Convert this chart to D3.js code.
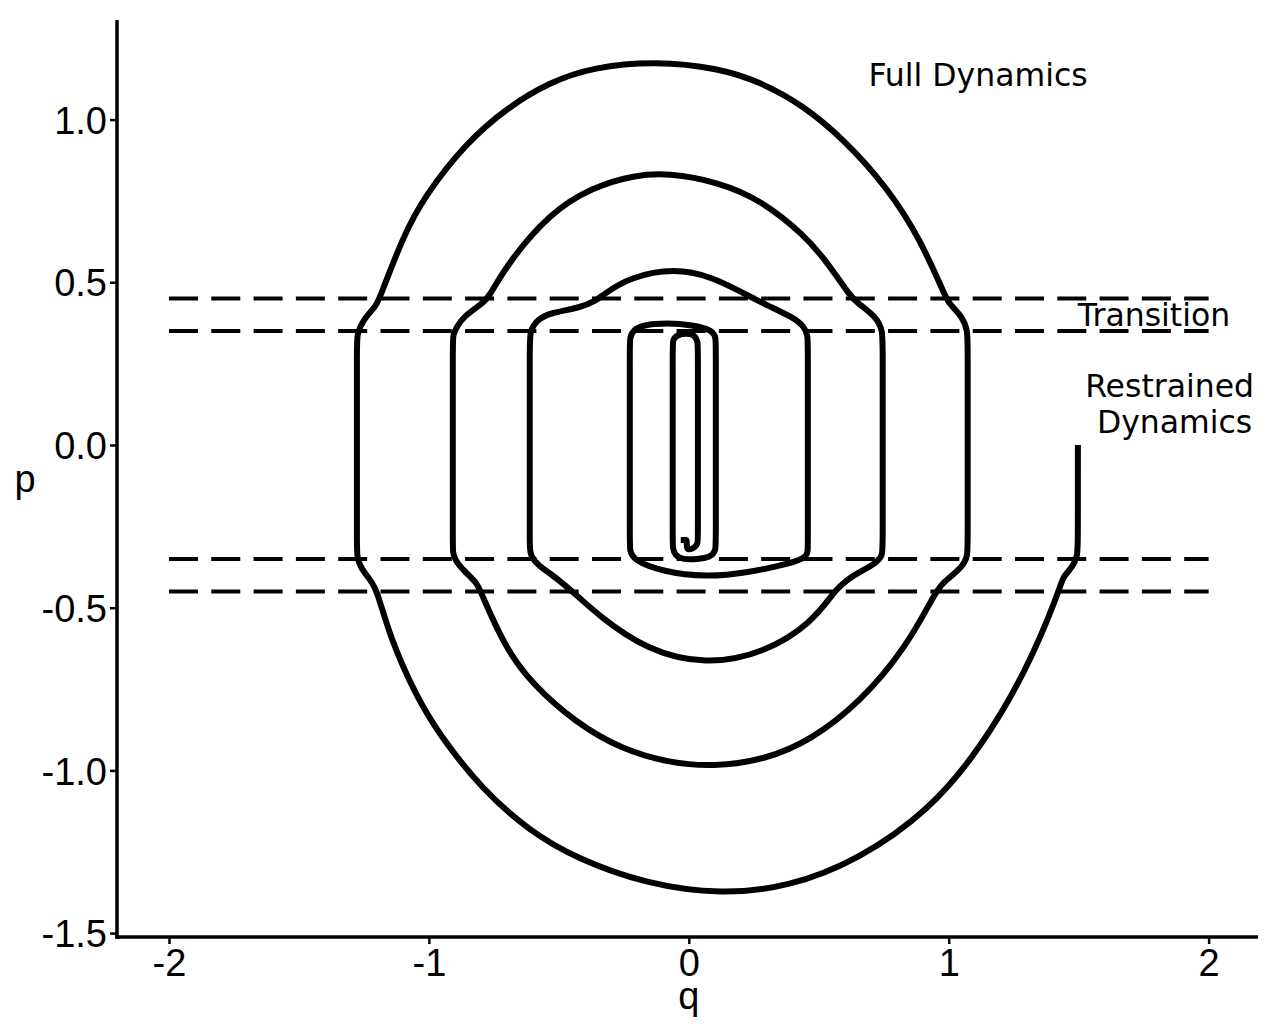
<!DOCTYPE html>
<html>
<head>
<meta charset="utf-8">
<script src="https://cdn.jsdelivr.net/npm/d3@7"></script>
<style>
  html, body { margin: 0; padding: 0; background: #fff; }
  svg { display: block; }
</style>
</head>
<body>
<svg id="chart" width="1280" height="1024"></svg>
<script>
// ---- data ----
const xTicks = [-2, -1, 0, 1, 2];
const xTickLabels = ["-2", "-1", "0", "1", "2"];
const yTicks = [1.0, 0.5, 0.0, -0.5, -1.0, -1.5];
const yTickLabels = ["1.0", "0.5", "0.0", "-0.5", "-1.0", "-1.5"];

// boundaries of the transition zone (dashed lines)
const boundaryP = [0.45, 0.35, -0.35, -0.45];
const boundaryQ = [-2, 2];

// trajectory in phase space [q, p], read along the curve from its start at (1.5, 0)
const trajectory = [
  [1.497, 0.000], [1.497, -0.300], [1.496, -0.340], [1.477, -0.375], [1.438, -0.406], [1.427, -0.445],
  [1.300, -0.695], [1.114, -0.942], [0.927, -1.121], [0.654, -1.275], [0.385, -1.358], [0.127, -1.381],
  [-0.162, -1.350], [-0.435, -1.270], [-0.615, -1.185], [-0.796, -1.058], [-0.961, -0.889], [-1.050, -0.770],
  [-1.149, -0.593], [-1.200, -0.445],
  [-1.225, -0.415], [-1.265, -0.375], [-1.277, -0.340], [-1.277, -0.300], [-1.277, 0.000], [-1.277, 0.300],
  [-1.277, 0.340], [-1.254, 0.384], [-1.200, 0.430], [-1.188, 0.455],
  [-1.100, 0.639], [-1.019, 0.762], [-0.858, 0.928], [-0.696, 1.038], [-0.535, 1.115], [-0.369, 1.161],
  [-0.127, 1.180], [0.115, 1.158], [0.277, 1.115], [0.438, 1.045], [0.600, 0.937], [0.768, 0.787],
  [0.892, 0.630], [0.988, 0.455],
  [1.000, 0.436], [1.054, 0.393], [1.073, 0.350], [1.073, 0.300], [1.073, 0.000], [1.073, -0.300],
  [1.073, -0.340], [1.054, -0.375], [0.977, -0.424], [0.954, -0.445],
  [0.838, -0.621], [0.660, -0.790], [0.473, -0.906], [0.292, -0.968], [0.092, -0.989], [-0.073, -0.977],
  [-0.254, -0.937], [-0.435, -0.854], [-0.606, -0.732], [-0.708, -0.621], [-0.804, -0.445],
  [-0.815, -0.424], [-0.869, -0.384], [-0.900, -0.353], [-0.908, -0.330], [-0.908, -0.300], [-0.908, 0.000],
  [-0.908, 0.300], [-0.908, 0.340], [-0.892, 0.363], [-0.869, 0.393], [-0.792, 0.436], [-0.769, 0.455],
  [-0.696, 0.559], [-0.535, 0.713], [-0.369, 0.793], [-0.208, 0.829], [-0.081, 0.836], [0.115, 0.808],
  [0.277, 0.753], [0.444, 0.646], [0.535, 0.559], [0.623, 0.455],
  [0.646, 0.439], [0.723, 0.393], [0.746, 0.350], [0.746, 0.300], [0.746, 0.000], [0.746, -0.300],
  [0.746, -0.340], [0.723, -0.363], [0.619, -0.406], [0.581, -0.436], [0.565, -0.445],
  [0.473, -0.547], [0.292, -0.639], [0.065, -0.676], [-0.162, -0.630], [-0.342, -0.528], [-0.454, -0.445],
  [-0.535, -0.393], [-0.573, -0.375], [-0.612, -0.340], [-0.612, -0.300], [-0.612, 0.000], [-0.612, 0.300],
  [-0.612, 0.350], [-0.585, 0.384], [-0.535, 0.406], [-0.419, 0.421], [-0.354, 0.445], [-0.331, 0.461],
  [-0.227, 0.516], [-0.054, 0.544], [0.092, 0.516], [0.208, 0.467], [0.246, 0.452], [0.300, 0.430],
  [0.400, 0.393], [0.446, 0.363], [0.458, 0.335], [0.458, 0.300], [0.458, 0.000], [0.458, -0.300],
  [0.458, -0.323], [0.454, -0.344], [0.400, -0.363], [0.223, -0.393], [0.069, -0.406], [-0.100, -0.390],
  [-0.215, -0.353], [-0.227, -0.323], [-0.227, -0.290], [-0.227, 0.000], [-0.227, 0.300], [-0.227, 0.329],
  [-0.215, 0.353], [-0.177, 0.369], [-0.085, 0.375], [0.015, 0.369], [0.092, 0.353], [0.104, 0.329],
  [0.104, 0.300], [0.104, 0.000], [0.104, -0.300], [0.104, -0.323], [0.085, -0.344], [0.042, -0.350],
  [-0.023, -0.353], [-0.054, -0.338], [-0.062, -0.316], [-0.062, -0.290], [-0.062, 0.000], [-0.062, 0.300],
  [-0.062, 0.323], [-0.046, 0.338], [-0.008, 0.344], [0.023, 0.338], [0.035, 0.316], [0.035, 0.290],
  [0.035, 0.000], [0.035, -0.290], [0.035, -0.301], [0.023, -0.316], [0.000, -0.322], [-0.008, -0.318],
  [-0.008, -0.292], [-0.008, -0.292], [-0.031, -0.292]
];

const annotationText = ["Full Dynamics", "Transition", "Restrained", "Dynamics"];
const annotationQ = [1.113, 1.790, 1.850, 1.869];
const annotationP = [1.103, 0.366, 0.147, 0.037];

// ---- drawing ----
const svg = d3.select("#chart");
const x = d3.scaleLinear().domain([-2.2, 2.19]).range([117, 1258]);
const y = d3.scaleLinear().domain([-1.512, 1.306]).range([937, 20]);

// dashed boundary lines
svg.append("g")
  .selectAll("line")
  .data(boundaryP)
  .join("line")
  .attr("x1", x(boundaryQ[0]))
  .attr("x2", x(boundaryQ[1]))
  .attr("y1", d => y(d))
  .attr("y2", d => y(d))
  .attr("stroke", "#000")
  .attr("stroke-width", 4)
  .attr("stroke-dasharray", "29,13.3");

// trajectory
const line = d3.line()
  .x(d => x(d[0]))
  .y(d => y(d[1]))
  .curve(d3.curveBasis);
svg.append("path")
  .attr("d", line(trajectory))
  .attr("fill", "none")
  .attr("stroke", "#000")
  .attr("stroke-width", 6)
  .attr("stroke-linejoin", "round");

// axes
const axisFont = "'Liberation Sans', Arial, sans-serif";
const xAxis = svg.append("g")
  .attr("transform", `translate(0,${y.range()[0]})`)
  .call(d3.axisBottom(x).tickValues(xTicks).tickFormat((d, i) => xTickLabels[i]).tickSize(7).tickPadding(5).tickSizeOuter(0));
const yAxis = svg.append("g")
  .attr("transform", `translate(${x.range()[0]},0)`)
  .call(d3.axisLeft(y).tickValues(yTicks).tickFormat((d, i) => yTickLabels[i]).tickSize(7).tickPadding(3).tickSizeOuter(0));

[xAxis, yAxis].forEach(g => {
  g.select(".domain").attr("stroke", "#000").attr("stroke-width", 3.5);
  g.selectAll(".tick line").attr("stroke", "#000").attr("stroke-width", 2.5);
  g.selectAll(".tick text")
    .attr("fill", "#000")
    .style("font-family", axisFont)
    .style("font-size", "38px");
});
xAxis.select(".domain").attr("d", `M${x.range()[0] - 1.75},0H${x.range()[1]}`);
yAxis.select(".domain").attr("d", `M0,${y.range()[0] + 1.75}V${y.range()[1]}`);
xAxis.selectAll(".tick text").attr("dy", "0.7em");
yAxis.selectAll(".tick text").attr("dy", "0.36em");

// axis titles
svg.append("text")
  .attr("x", x(0))
  .attr("y", 1009)
  .attr("text-anchor", "middle")
  .style("font-family", axisFont)
  .style("font-size", "38px")
  .text("q");
svg.append("text")
  .attr("x", 25)
  .attr("y", 492)
  .attr("text-anchor", "middle")
  .style("font-family", axisFont)
  .style("font-size", "38px")
  .text("p");

// annotations
svg.append("g")
  .selectAll("text")
  .data(annotationText)
  .join("text")
  .attr("x", (d, i) => x(annotationQ[i]))
  .attr("y", (d, i) => y(annotationP[i]))
  .attr("text-anchor", "middle")
  .style("font-family", "'DejaVu Sans', sans-serif")
  .style("font-size", "31.5px")
  .attr("fill", "#000")
  .text(d => d);
</script>
</body>
</html>
